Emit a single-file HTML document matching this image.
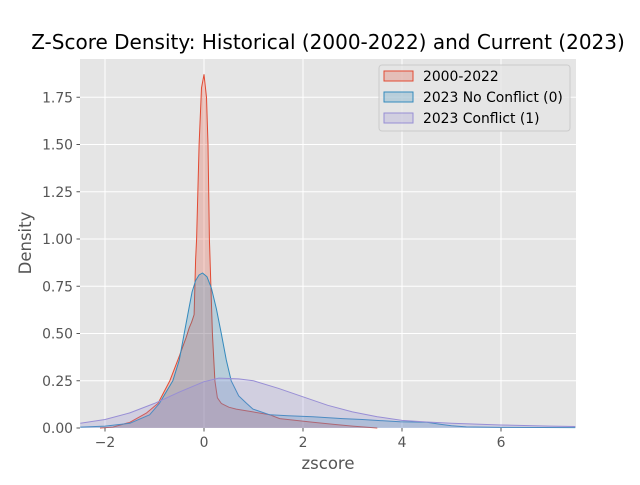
<!DOCTYPE html>
<html><head><meta charset="utf-8"><style>
body{margin:0;background:#fff;}
svg{font-family:"DejaVu Sans","Liberation Sans",sans-serif;}
</style></head><body>
<svg id="chart" width="640" height="480" viewBox="0 0 640 480" xmlns="http://www.w3.org/2000/svg">
<rect x="0" y="0" width="640" height="480" fill="#fff"/>
<rect x="80" y="59" width="496" height="369" fill="#E5E5E5"/>
<g id="grid"></g>
<g id="series"></g>
<g id="ticks"></g>
<text x="328" y="49" text-anchor="middle" font-size="20" fill="#000">Z-Score Density: Historical (2000-2022) and Current (2023)</text>
<text x="328" y="469" text-anchor="middle" font-size="16.5" fill="#555">zscore</text>
<text transform="translate(31,243) rotate(-90)" text-anchor="middle" font-size="16.5" fill="#555">Density</text>
<g>
<rect x="379" y="65" width="191" height="66" rx="3" fill="#E5E5E5" fill-opacity="0.8" stroke="#ccc"/>
<g><rect x="384" y="71" width="29" height="10" fill="#E24A33" fill-opacity="0.25" stroke="#E24A33"/><text x="423" y="81" font-size="13.9" fill="#000">2000-2022</text></g>
<g><rect x="384" y="92" width="29" height="10" fill="#348ABD" fill-opacity="0.25" stroke="#348ABD"/><text x="423" y="102" font-size="13.9" fill="#000">2023 No Conflict (0)</text></g>
<g><rect x="384" y="113" width="29" height="10" fill="#988ED5" fill-opacity="0.25" stroke="#988ED5"/><text x="423" y="123" font-size="13.9" fill="#000">2023 Conflict (1)</text></g>
</g>
</svg>
<script>
const xTicks=[-2,0,2,4,6];
const yTicks=[0,0.25,0.5,0.75,1.0,1.25,1.5,1.75];
const yTickLabels=["0.00","0.25","0.50","0.75","1.00","1.25","1.50","1.75"];
const histX=[-2.1,-1.84,-1.5,-1.16,-0.93,-0.69,-0.5,-0.36,-0.3,-0.25,-0.2,-0.17,-0.15,-0.1,-0.05,0.0,0.05,0.08,0.11,0.14,0.17,0.22,0.27,0.35,0.5,0.65,0.99,1.33,1.53,2.2,2.6,3.0,3.5];
const histY=[0.0,0.005,0.03,0.08,0.13,0.25,0.38,0.48,0.53,0.56,0.6,0.89,1.0,1.5,1.8,1.87,1.75,1.5,1.0,0.75,0.5,0.25,0.16,0.13,0.11,0.1,0.085,0.07,0.05,0.03,0.02,0.01,0.0];
const noConfX=[-2.5,-2.0,-1.5,-1.1,-0.9,-0.63,-0.5,-0.4,-0.3,-0.24,-0.17,-0.1,-0.03,0.06,0.15,0.25,0.35,0.45,0.55,0.7,0.86,0.99,1.33,1.7,2.2,2.8,3.2,3.96,4.5,4.77,5.0,5.3,6.0,7.5];
const noConfY=[0.005,0.01,0.025,0.07,0.13,0.25,0.36,0.5,0.64,0.72,0.78,0.81,0.82,0.8,0.74,0.63,0.5,0.36,0.25,0.17,0.13,0.1,0.07,0.065,0.06,0.05,0.045,0.033,0.03,0.02,0.012,0.006,0.003,0.002];
const confX=[-2.5,-2.0,-1.5,-1.0,-0.5,0.0,0.3,0.7,1.0,1.5,2.0,2.5,3.0,3.5,4.0,4.5,5.0,6.0,7.0,7.5];
const confY=[0.025,0.045,0.08,0.13,0.19,0.245,0.264,0.26,0.25,0.21,0.165,0.12,0.085,0.06,0.04,0.032,0.025,0.016,0.01,0.008];
const X0=80,X1=576,Y0=428,Y1=59;
const xs=v=>204+v*49.5;
const ys=v=>428-v*189;
const NS="http://www.w3.org/2000/svg";
const grid=document.getElementById('grid'),ticks=document.getElementById('ticks'),series=document.getElementById('series');
xTicks.forEach(t=>{const x=xs(t);
 const l=document.createElementNS(NS,'line');l.setAttribute('x1',x);l.setAttribute('x2',x);l.setAttribute('y1',Y1);l.setAttribute('y2',Y0);l.setAttribute('stroke','#fff');l.setAttribute('stroke-width','1');
 
 grid.appendChild(l);
 const tk=document.createElementNS(NS,'line');tk.setAttribute('x1',x);tk.setAttribute('x2',x);tk.setAttribute('y1',Y0);tk.setAttribute('y2',Y0+3.5);tk.setAttribute('stroke','#555');
 
 ticks.appendChild(tk);
 const tx=document.createElementNS(NS,'text');tx.setAttribute('x',x);tx.setAttribute('y',Y0+19);tx.setAttribute('text-anchor','middle');tx.setAttribute('font-size','13.9');tx.setAttribute('fill','#555');tx.textContent=(t<0?'\u2212'+(-t):t);
 
 ticks.appendChild(tx);});
yTicks.forEach((t,i)=>{const y=ys(t);
 const l=document.createElementNS(NS,'line');l.setAttribute('x1',X0);l.setAttribute('x2',X1);l.setAttribute('y1',y);l.setAttribute('y2',y);l.setAttribute('stroke','#fff');
 
 grid.appendChild(l);
 const tk=document.createElementNS(NS,'line');tk.setAttribute('x1',X0-3.5);tk.setAttribute('x2',X0);tk.setAttribute('y1',y);tk.setAttribute('y2',y);tk.setAttribute('stroke','#555');
 
 ticks.appendChild(tk);
 const tx=document.createElementNS(NS,'text');tx.setAttribute('x',X0-7);tx.setAttribute('y',y+5);tx.setAttribute('text-anchor','end');tx.setAttribute('font-size','13.9');tx.setAttribute('fill','#555');tx.textContent=yTickLabels[i];
 
 ticks.appendChild(tx);});
function draw(X,Y,color,name){
 let d='';X.forEach((v,i)=>{d+=(i?'L':'M')+xs(v).toFixed(1)+','+ys(Y[i]).toFixed(1);});
 const f=document.createElementNS(NS,'path');
 f.setAttribute('d',d+'L'+xs(X[X.length-1])+','+Y0+'L'+xs(X[0])+','+Y0+'Z');
 f.setAttribute('fill',color);f.setAttribute('fill-opacity','0.25');
 
 series.appendChild(f);
 const p=document.createElementNS(NS,'path');p.setAttribute('d',d);p.setAttribute('fill','none');p.setAttribute('stroke',color);p.setAttribute('stroke-width','1');p.setAttribute('stroke-linejoin','round');
 
 series.appendChild(p);}
draw(histX,histY,'#E24A33','historical');
draw(noConfX,noConfY,'#348ABD','no-conflict');
draw(confX,confY,'#988ED5','conflict');
</script>
</body></html>
